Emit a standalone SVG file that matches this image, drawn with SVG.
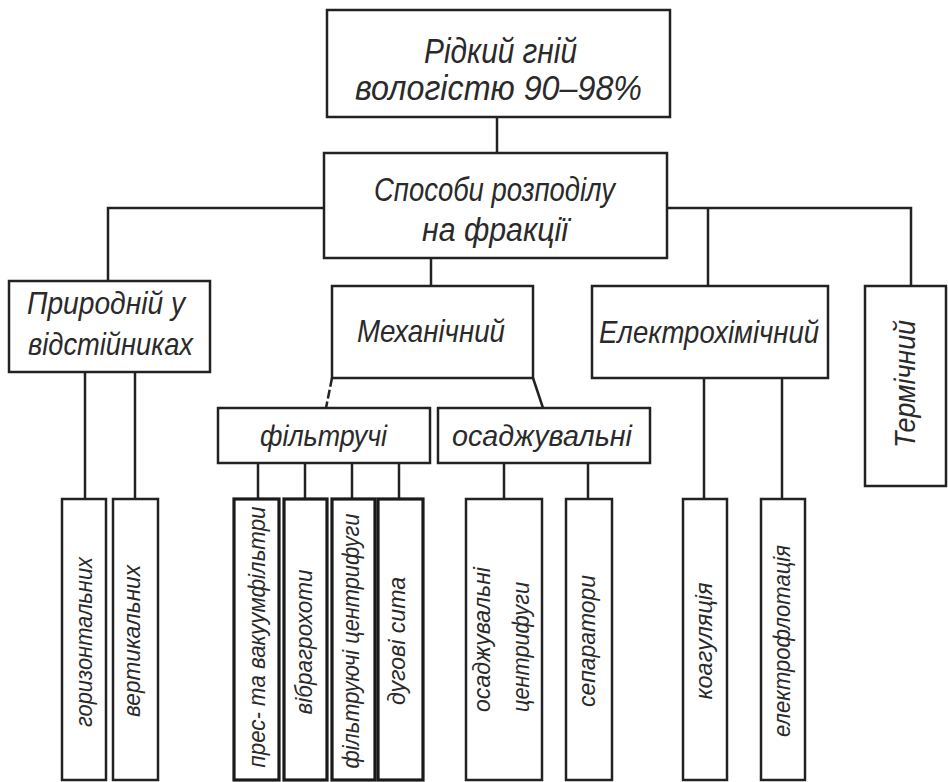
<svg xmlns="http://www.w3.org/2000/svg" width="948" height="782" viewBox="0 0 948 782">
<style>
.box{fill:#fff;stroke:#222;stroke-width:2.5}
.thick{fill:#fff;stroke:#1a1a1a;stroke-width:3.2}
.c{stroke:#222;stroke-width:2.5;fill:none}
.t{font-family:"Liberation Sans","Noto Sans",sans-serif;font-style:italic;fill:#2a2a2a}
.h1{font-size:35px}
.h1b{font-size:33px}
.h2{font-size:32px}
.h3{font-size:29px}
.v{font-size:23px}
</style>
<rect width="948" height="782" fill="#fff"/>
<g id="connectors">
<line class="c" x1="497" y1="117" x2="497" y2="153"/>
<polyline class="c" points="324,208 108,208 108,281"/>
<polyline class="c" points="667,208 911,208 911,286"/>
<line class="c" x1="708" y1="208" x2="708" y2="286"/>
<line class="c" x1="431" y1="258" x2="431" y2="286"/>
<line class="c" x1="85" y1="372" x2="85" y2="499"/>
<line class="c" x1="135" y1="372" x2="135" y2="499"/>
<line class="c" x1="332" y1="378" x2="326" y2="408" stroke-dasharray="9 3"/>
<line class="c" x1="533" y1="378" x2="543" y2="408"/>
<line class="c" x1="258" y1="463" x2="258" y2="499"/>
<line class="c" x1="305" y1="463" x2="305" y2="499"/>
<line class="c" x1="352" y1="463" x2="352" y2="499"/>
<line class="c" x1="399" y1="463" x2="399" y2="499"/>
<line class="c" x1="504" y1="463" x2="504" y2="499"/>
<line class="c" x1="588" y1="463" x2="588" y2="499"/>
<line class="c" x1="704" y1="378" x2="704" y2="499"/>
<line class="c" x1="782" y1="378" x2="782" y2="499"/>
</g>
<g id="root">
<rect class="box" x="327" y="10" width="343" height="107"/>
<text class="t h1" x="424" y="63" textLength="153" lengthAdjust="spacingAndGlyphs">Рідкий гній</text>
<text class="t h1" x="355" y="100" textLength="287" lengthAdjust="spacingAndGlyphs">вологістю 90–98%</text>
</g>
<g id="methods">
<rect class="box" x="324" y="153" width="343" height="105"/>
<text class="t h1b" x="374" y="201" textLength="241" lengthAdjust="spacingAndGlyphs">Способи розподілу</text>
<text class="t h1b" x="422" y="241" textLength="146" lengthAdjust="spacingAndGlyphs">на фракції</text>
</g>
<g id="natural">
<rect class="box" x="9" y="281" width="201" height="91"/>
<text class="t h2" x="27" y="314" textLength="158" lengthAdjust="spacingAndGlyphs">Природній у</text>
<text class="t h2" x="28" y="355" textLength="165" lengthAdjust="spacingAndGlyphs">відстійниках</text>
</g>
<g id="mechanical">
<rect class="box" x="332" y="286" width="201" height="92"/>
<text class="t h2" x="357" y="342" textLength="148" lengthAdjust="spacingAndGlyphs">Механічний</text>
</g>
<g id="electrochemical">
<rect class="box" x="592" y="286" width="236" height="92"/>
<text class="t h2" x="599" y="343" textLength="220" lengthAdjust="spacingAndGlyphs">Електрохімічний</text>
</g>
<g id="thermal">
<rect class="box" x="865" y="286" width="81" height="200"/>
<text class="t h3" transform="translate(905,384) rotate(-90)" x="0" y="10" text-anchor="middle" textLength="128" lengthAdjust="spacingAndGlyphs">Термічний</text>
</g>
<g id="filtering">
<rect class="box" x="218" y="408" width="212" height="55"/>
<text class="t h3" x="260" y="446" textLength="127" lengthAdjust="spacingAndGlyphs">фільтручі</text>
</g>
<g id="settling">
<rect class="box" x="438" y="408" width="212" height="55"/>
<text class="t h3" x="452" y="446" textLength="180" lengthAdjust="spacingAndGlyphs">осаджувальні</text>
</g>
<g id="horizontal">
<rect class="box" x="62" y="499" width="44" height="281"/>
<text class="t v" transform="translate(85,642) rotate(-90)" x="0" y="7" text-anchor="middle" textLength="170" lengthAdjust="spacingAndGlyphs">горизонтальних</text>
</g>
<g id="vertical">
<rect class="box" x="113" y="499" width="45" height="281"/>
<text class="t v" transform="translate(133,641) rotate(-90)" x="0" y="7" text-anchor="middle" textLength="152" lengthAdjust="spacingAndGlyphs">вертикальних</text>
</g>
<g id="press">
<rect class="thick" x="234" y="499" width="45" height="281"/>
<text class="t v" transform="translate(258,637) rotate(-90)" x="0" y="7" text-anchor="middle" textLength="261" lengthAdjust="spacingAndGlyphs">прес- та вакуумфільтри</text>
</g>
<g id="vibro">
<rect class="thick" x="284" y="499" width="43" height="281"/>
<text class="t v" transform="translate(305,642) rotate(-90)" x="0" y="7" text-anchor="middle" textLength="145" lengthAdjust="spacingAndGlyphs">вібрагрохоти</text>
</g>
<g id="filtcentr">
<rect class="thick" x="332" y="499" width="43" height="281"/>
<text class="t v" transform="translate(352,641) rotate(-90)" x="0" y="7" text-anchor="middle" textLength="255" lengthAdjust="spacingAndGlyphs">фільтруючі центрифуги</text>
</g>
<g id="arcsieve">
<rect class="thick" x="378" y="499" width="45" height="281"/>
<text class="t v" transform="translate(398,641) rotate(-90)" x="0" y="7" text-anchor="middle" textLength="128" lengthAdjust="spacingAndGlyphs">дугові сита</text>
</g>
<g id="settcentr">
<rect class="box" x="466" y="499" width="76" height="281"/>
<text class="t v" transform="translate(483,712) rotate(-90)" x="0" y="7" textLength="145" lengthAdjust="spacingAndGlyphs">осаджувальні</text>
<text class="t v" transform="translate(522,712) rotate(-90)" x="0" y="7" textLength="130" lengthAdjust="spacingAndGlyphs">центрифуги</text>
</g>
<g id="separators">
<rect class="box" x="566" y="499" width="46" height="281"/>
<text class="t v" transform="translate(588,641) rotate(-90)" x="0" y="7" text-anchor="middle" textLength="132" lengthAdjust="spacingAndGlyphs">сепаратори</text>
</g>
<g id="coagulation">
<rect class="box" x="683" y="499" width="44" height="281"/>
<text class="t v" transform="translate(705,641) rotate(-90)" x="0" y="7" text-anchor="middle" textLength="117" lengthAdjust="spacingAndGlyphs">коагуляція</text>
</g>
<g id="flotation">
<rect class="box" x="761" y="499" width="44" height="281"/>
<text class="t v" transform="translate(783,641) rotate(-90)" x="0" y="7" text-anchor="middle" textLength="192" lengthAdjust="spacingAndGlyphs">електрофлотація</text>
</g>
</svg>
